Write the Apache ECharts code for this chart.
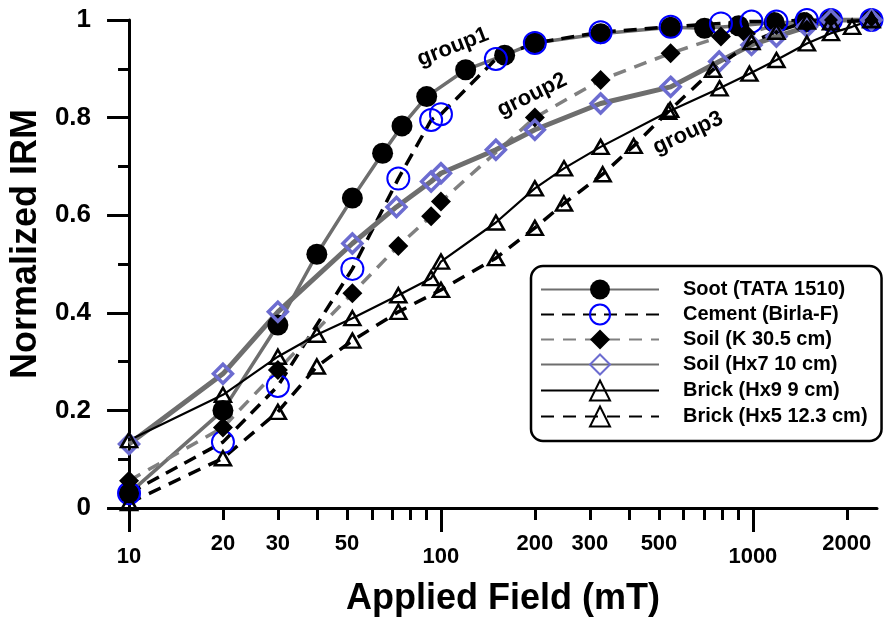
<!DOCTYPE html>
<html><head><meta charset="utf-8">
<script src="https://cdn.jsdelivr.net/npm/echarts@6/dist/echarts.min.js"></script>
<style>html,body{margin:0;padding:0;background:#fff}#c{width:886px;height:624px}</style>
</head><body><div id="c"></div>
<script>
// ---- data (Applied field in mT, normalized IRM) ----
const sootField = [10, 20, 30, 40, 52, 65, 75, 90, 120, 160, 200, 325, 545, 700, 900, 1170, 1460, 1780, 2400];
const sootIRM   = [0.03, 0.2, 0.375, 0.52, 0.635, 0.727, 0.783, 0.843, 0.898, 0.928, 0.953, 0.972, 0.985, 0.983, 0.988, 0.995, 0.995, 1.0, 1.0];

const cementField = [10, 20, 30, 52, 73, 93, 100, 150, 200, 325, 545, 790, 990, 1190, 1490, 1780, 2400];
const cementIRM   = [0.03, 0.135, 0.25, 0.49, 0.675, 0.795, 0.807, 0.92, 0.953, 0.975, 0.986, 0.993, 0.997, 0.997, 1.0, 1.0, 1.0];

const soilKField = [10, 20, 30, 52, 73, 93, 100, 200, 325, 545, 790, 950, 1190, 1490, 1780, 2400];
const soilKIRM   = [0.056, 0.165, 0.283, 0.44, 0.537, 0.598, 0.628, 0.80, 0.877, 0.932, 0.966, 0.972, 0.99, 0.995, 1.0, 1.0];

const soilHx7Field = [10, 20, 30, 52, 72, 93, 100, 150, 200, 325, 545, 780, 990, 1190, 1490, 1780, 2400];
const soilHx7IRM   = [0.131, 0.275, 0.402, 0.542, 0.617, 0.669, 0.686, 0.734, 0.775, 0.829, 0.863, 0.915, 0.949, 0.966, 0.986, 1.0, 1.0];

const brickHx9Field = [10, 20, 30, 40, 52, 73, 93, 100, 150, 200, 248, 325, 535, 782, 975, 1190, 1490, 1780, 2080, 2400];
const brickHx9IRM   = [0.139, 0.232, 0.31, 0.355, 0.389, 0.436, 0.471, 0.505, 0.585, 0.655, 0.696, 0.74, 0.812, 0.86, 0.89, 0.918, 0.952, 0.973, 0.986, 1.0];

const brickHx5Field = [10, 20, 30, 40, 52, 73, 100, 150, 200, 248, 330, 415, 543, 745, 990, 1190, 1490, 1780, 2400];
const brickHx5IRM   = [0.01, 0.102, 0.197, 0.29, 0.343, 0.402, 0.447, 0.512, 0.574, 0.624, 0.684, 0.742, 0.816, 0.898, 0.955, 0.976, 0.997, 0.995, 1.0];

const seriesNames = ['Soot (TATA 1510)', 'Cement (Birla-F)', 'Soil (K 30.5 cm)', 'Soil (Hx7 10 cm)', 'Brick (Hx9 9 cm)', 'Brick (Hx5 12.3 cm)'];

// tick labels / positions (mT)
const majorTickFields = [10, 100, 1000];
const minorTickFields = [20, 30, 40, 50, 60, 70, 80, 90, 200, 300, 400, 500, 600, 700, 800, 900, 2000];
const minorLabelFields = [20, 30, 50, 200, 300, 500, 2000];
const fieldMin = 10, fieldMax = 2500;

const groupLabels = ['group1', 'group2', 'group3'];

// ---- chart ----
const FONT = '"Liberation Sans", Arial, Helvetica, sans-serif';
const L = v => Math.log10(v);
const pts = (xs, ys) => xs.map((x, i) => [L(x), ys[i]]);
const fmtField = v => String(Math.round(Math.pow(10, v)));
const TRANS = 'rgba(255,255,255,0)';

const chart = echarts.init(document.getElementById('c'), null, {renderer: 'canvas'});

const baseX = {
  type: 'value', min: L(fieldMin), max: L(fieldMax), position: 'bottom',
  splitLine: {show: false}
};

chart.setOption({
  animation: false,
  backgroundColor: '#fff',
  grid: {left: 127, right: 9, top: 20, bottom: 116, containLabel: false},
  xAxis: [
    Object.assign({}, baseX, {
      axisLine: {show: true, onZero: false, lineStyle: {color: '#000', width: 3}},
      axisTick: {show: true, customValues: minorTickFields.map(L), length: 12, lineStyle: {color: '#000', width: 3}},
      axisLabel: {customValues: minorLabelFields.map(L), formatter: fmtField, margin: 25,
        fontFamily: FONT, fontWeight: 'bold', fontSize: 22, color: '#000'}
    }),
    Object.assign({}, baseX, {
      axisLine: {show: false, onZero: false},
      axisTick: {show: true, customValues: majorTickFields.map(L), length: 24, lineStyle: {color: '#000', width: 3}},
      axisLabel: {customValues: majorTickFields.map(L), formatter: fmtField, margin: 38,
        fontFamily: FONT, fontWeight: 'bold', fontSize: 22, color: '#000'},
      name: 'Applied Field (mT)', nameLocation: 'middle', nameGap: 73,
      nameTextStyle: {fontFamily: FONT, fontWeight: 'bold', fontSize: 36, color: '#000'}
    })
  ],
  yAxis: {
    type: 'value', min: 0, max: 1, interval: 0.2,
    axisLine: {show: true, onZero: false, lineStyle: {color: '#000', width: 3}},
    axisTick: {show: true, length: 22, lineStyle: {color: '#000', width: 3}},
    minorTick: {show: true, splitNumber: 2, length: 11, lineStyle: {color: '#000', width: 3}},
    splitLine: {show: false}, minorSplitLine: {show: false},
    axisLabel: {margin: 38, fontFamily: FONT, fontWeight: 'bold', fontSize: 26, color: '#000',
      formatter: v => String(+v.toFixed(1))},
    name: 'Normalized IRM', nameLocation: 'middle', nameGap: 84,
    nameTextStyle: {fontFamily: FONT, fontWeight: 'bold', fontSize: 36, color: '#000', padding: [0, 0, 0, 40]}
  },
  legend: {
    orient: 'vertical', left: 531, top: 266,
    padding: [13.5, 14, 13.5, 9], itemWidth: 118, itemHeight: 25, itemGap: 4,
    borderColor: '#000', borderWidth: 2.5, borderRadius: 12, backgroundColor: '#fff',
    textStyle: {fontFamily: FONT, fontWeight: 'bold', fontSize: 20, color: '#000', padding: [0, 0, 0, 19]},
    data: seriesNames
  },
  graphic: [
    {type: 'text', x: 453, y: 47, rotation: 21 * Math.PI / 180,
     style: {text: groupLabels[0], font: 'bold 22px ' + FONT, fill: '#000', align: 'center', verticalAlign: 'middle'}},
    {type: 'text', x: 532, y: 95, rotation: 26 * Math.PI / 180,
     style: {text: groupLabels[1], font: 'bold 22px ' + FONT, fill: '#000', align: 'center', verticalAlign: 'middle'}},
    {type: 'text', x: 688, y: 133, rotation: 25 * Math.PI / 180,
     style: {text: groupLabels[2], font: 'bold 22px ' + FONT, fill: '#000', align: 'center', verticalAlign: 'middle'}}
  ],
  series: [
    {name: seriesNames[0], type: 'line', xAxisIndex: 0, data: pts(sootField, sootIRM),
     symbol: 'circle', symbolSize: 21, itemStyle: {color: '#000'},
     lineStyle: {color: '#6e6e6e', width: 3.5}, emphasis: {disabled: true}},
    {name: seriesNames[1], type: 'line', xAxisIndex: 0, data: pts(cementField, cementIRM),
     symbol: 'circle', symbolSize: 22, itemStyle: {color: TRANS, borderColor: '#0000ff', borderWidth: 2},
     lineStyle: {color: '#000', width: 3.5, type: [13, 8]}, emphasis: {disabled: true}},
    {name: seriesNames[2], type: 'line', xAxisIndex: 0, data: pts(soilKField, soilKIRM),
     symbol: 'diamond', symbolSize: 20, itemStyle: {color: '#000'},
     lineStyle: {color: '#808080', width: 3.5, type: [13, 9]}, emphasis: {disabled: true}},
    {name: seriesNames[3], type: 'line', xAxisIndex: 0, data: pts(soilHx7Field, soilHx7IRM),
     symbol: 'diamond', symbolSize: 19, itemStyle: {color: TRANS, borderColor: '#6c6cd0', borderWidth: 3.5},
     lineStyle: {color: '#6e6e6e', width: 5}, emphasis: {disabled: true}},
    {name: seriesNames[4], type: 'line', xAxisIndex: 0, data: pts(brickHx9Field, brickHx9IRM),
     symbol: 'triangle', symbolSize: [16, 14], itemStyle: {color: TRANS, borderColor: '#000', borderWidth: 2.5},
     lineStyle: {color: '#000', width: 2.2}, emphasis: {disabled: true}},
    {name: seriesNames[5], type: 'line', xAxisIndex: 0, data: pts(brickHx5Field, brickHx5IRM),
     symbol: 'triangle', symbolSize: [16, 14], itemStyle: {color: TRANS, borderColor: '#000', borderWidth: 2.5},
     lineStyle: {color: '#000', width: 3.5, type: [13, 9]}, emphasis: {disabled: true}}
  ]
});
</script>
</body></html>
